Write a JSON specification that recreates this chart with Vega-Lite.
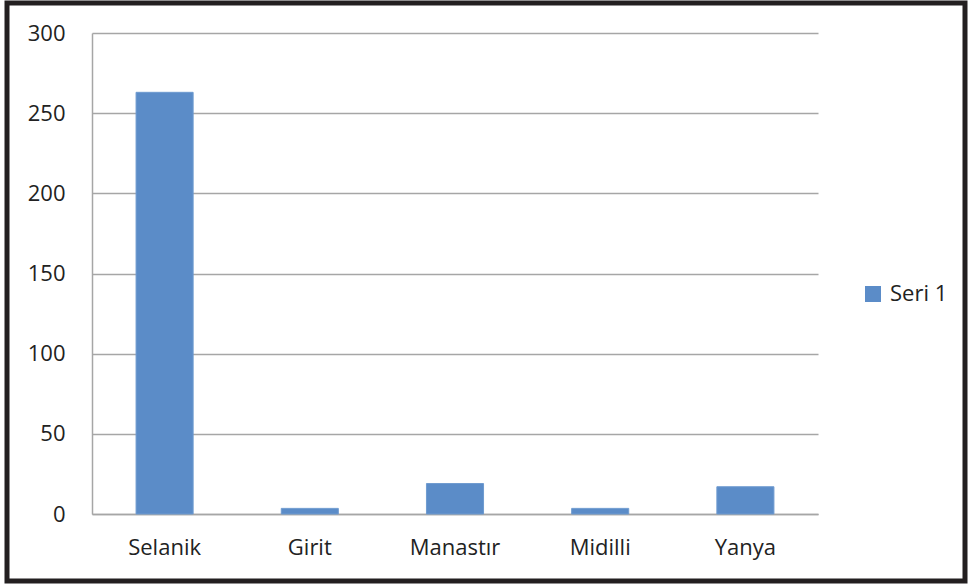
{
  "$schema": "https://vega.github.io/schema/vega-lite/v6.json",
  "width": 958,
  "height": 578,
  "autosize": {"type": "none"},
  "padding": {"left": 7, "top": 3, "right": 3, "bottom": 3},
  "background": "white",
  "config": {
    "view": {"stroke": "#231f20", "strokeWidth": 5},
    "font": "Open Sans"
  },
  "data": {
    "values": [
      {"city": "Selanik", "value": 263, "series": "Seri 1"},
      {"city": "Girit", "value": 3.5, "series": "Seri 1"},
      {"city": "Manastır", "value": 19, "series": "Seri 1"},
      {"city": "Midilli", "value": 3.5, "series": "Seri 1"},
      {"city": "Yanya", "value": 17, "series": "Seri 1"}
    ]
  },
  "mark": {"type": "bar", "stroke": "#6f9bd0", "strokeWidth": 1},
  "encoding": {
    "x": {
      "field": "city",
      "type": "nominal",
      "sort": null,
      "scale": {"range": [85, 811], "paddingInner": 0.607, "paddingOuter": 0.3035},
      "axis": {
        "title": null,
        "orient": "bottom",
        "offset": -67,
        "labelAngle": 0,
        "ticks": false,
        "domainColor": "#a6a6a6",
        "domainWidth": 1.5,
        "labelFont": "Open Sans",
        "labelFontSize": 22,
        "labelColor": "#222222",
        "labelPadding": 23,
        "grid": false
      }
    },
    "y": {
      "field": "value",
      "type": "quantitative",
      "scale": {"domain": [0, 300], "nice": false, "range": [511, 30]},
      "axis": {
        "title": null,
        "orient": "left",
        "offset": -85,
        "values": [0, 50, 100, 150, 200, 250, 300],
        "ticks": false,
        "domainColor": "#a6a6a6",
        "domainWidth": 1.5,
        "grid": true,
        "gridColor": "#a6a6a6",
        "gridWidth": 1.5,
        "labelFont": "Open Sans",
        "labelFontSize": 22,
        "labelColor": "#222222",
        "labelPadding": 27
      }
    },
    "color": {
      "field": "series",
      "type": "nominal",
      "scale": {"range": ["#5b8cc8"]},
      "legend": {
        "title": null,
        "orient": "none",
        "legendX": 855,
        "legendY": 280,
        "symbolType": "square",
        "symbolSize": 256,
        "symbolStrokeWidth": 0,
        "labelFont": "Open Sans",
        "labelFontSize": 22,
        "labelColor": "#222222",
        "labelOffset": 6
      }
    }
  }
}
